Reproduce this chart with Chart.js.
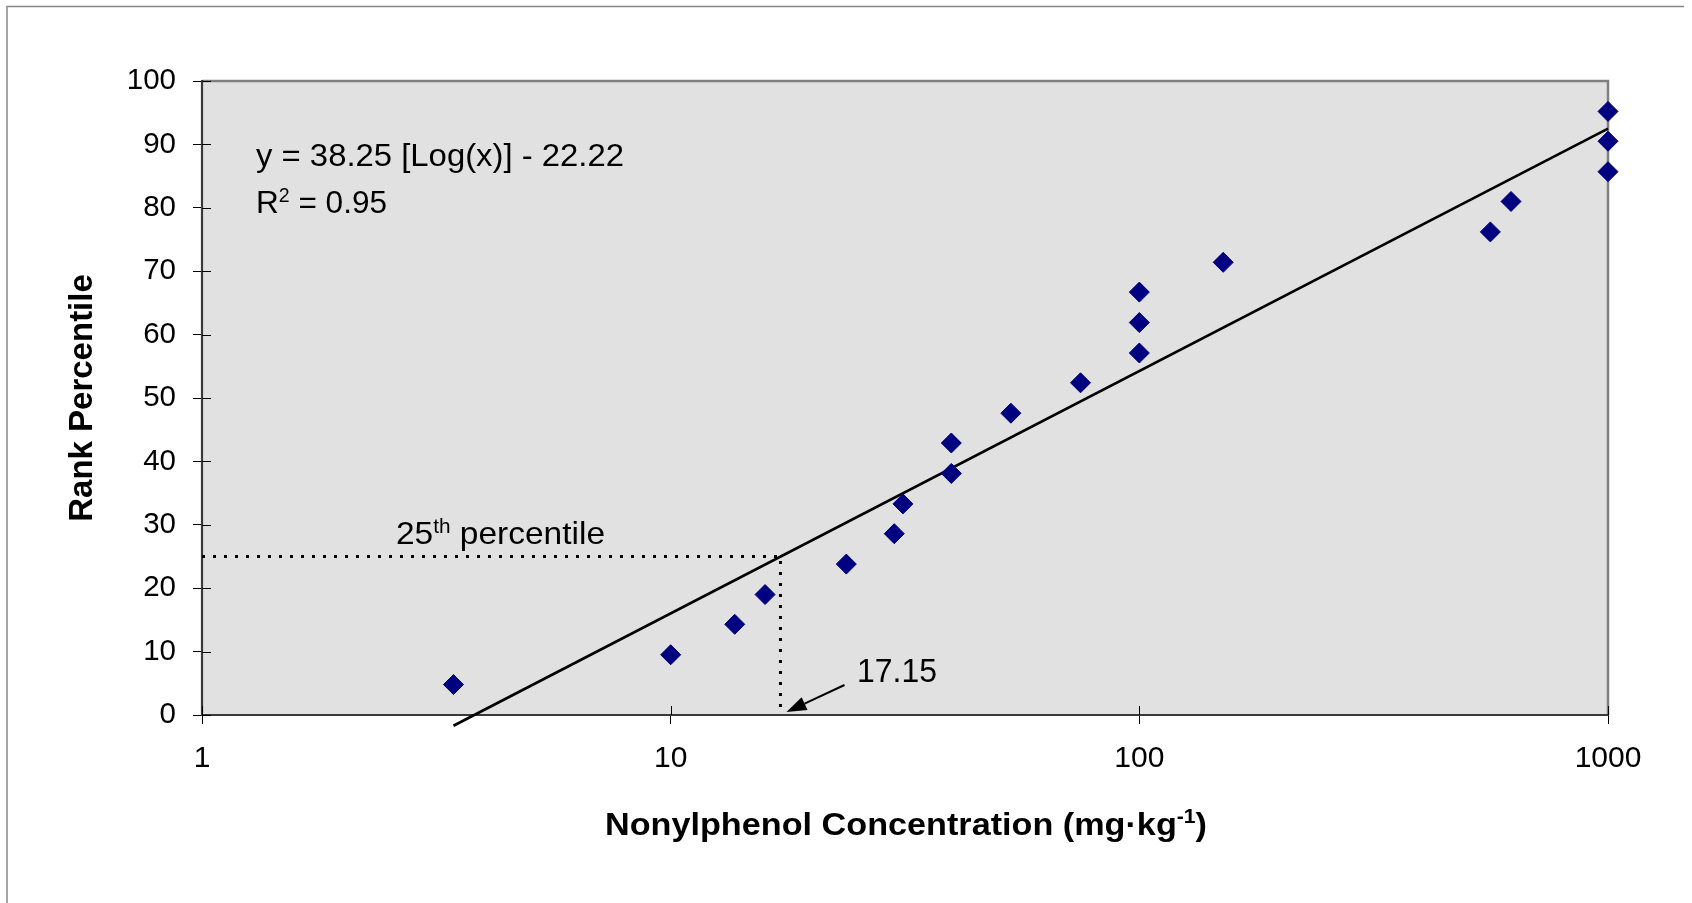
<!DOCTYPE html>
<html><head><meta charset="utf-8">
<script src="https://cdn.jsdelivr.net/npm/chart.js@4.4.1/dist/chart.umd.min.js"></script>
<style>html,body{margin:0;padding:0;background:#fff;overflow:hidden}canvas{display:block}</style>
</head><body>
<canvas id="c" width="1692" height="903"></canvas>
<script>
// ---- data ----
const concentration = [3.44, 10, 13.7, 15.9, 23.7, 30.0, 31.3, 39.7, 39.7, 53.2, 74.9, 100, 100, 100, 151, 561, 621, 1000, 1000, 1000];
const rankPercentile = [4.8, 9.5, 14.3, 19.0, 23.8, 28.6, 33.3, 38.1, 42.9, 47.6, 52.4, 57.1, 61.9, 66.7, 71.4, 76.2, 81.0, 85.7, 90.5, 95.2];
const trendX = [3.44, 1000];
const trendY = [-1.7, 92.5];
const refX = [1, 17.15, 17.15];
const refY = [25, 25, 0];
const xTicks = [1, 10, 100, 1000];
const yTicks = [0, 10, 20, 30, 40, 50, 60, 70, 80, 90, 100];
const equationLabel = 'y = 38.25 [Log(x)] - 22.22';
const r2Value = '0.95';
const refLabel = '17.15';
const xTitle = 'Nonylphenol Concentration (mg\u00B7kg';
const yTitle = 'Rank Percentile';

const FONT = "'Liberation Sans', Arial, Helvetica, sans-serif";

function drawRich(ctx, parts, x, baseline, size, weight, targetWidth, align) {
  const fnt = s => (weight ? weight + ' ' : '') + s + 'px ' + FONT;
  let natural = 0;
  parts.forEach(p => { ctx.font = fnt(p.sup ? size * 0.62 : size); natural += ctx.measureText(p.t).width; });
  const sx = targetWidth ? targetWidth / natural : 1;
  const total = natural * sx;
  let startX = align === 'center' ? x - total / 2 : x;
  ctx.save();
  ctx.translate(startX, baseline);
  ctx.scale(sx, 1);
  ctx.fillStyle = '#000';
  ctx.textBaseline = 'alphabetic';
  ctx.textAlign = 'left';
  let cx = 0;
  parts.forEach(p => {
    const s = p.sup ? size * 0.62 : size;
    ctx.font = fnt(s);
    ctx.fillText(p.t, cx, p.sup ? -size * 0.36 : 0);
    cx += ctx.measureText(p.t).width;
  });
  ctx.restore();
}

const deco = {
  id: 'deco',
  beforeDraw(chart) {
    const {ctx, chartArea: a} = chart;
    ctx.save();
    ctx.fillStyle = '#FFFFFF';
    ctx.fillRect(0, 0, chart.width, chart.height);
    ctx.fillStyle = '#E1E1E1';
    ctx.fillRect(a.left, a.top, a.right - a.left, a.bottom - a.top);
    // outer frame (top and left)
    ctx.strokeStyle = '#888888';
    ctx.lineWidth = 1.5;
    ctx.beginPath();
    ctx.moveTo(7, 903); ctx.lineTo(7, 6.5); ctx.lineTo(1684, 6.5);
    ctx.stroke();
    ctx.restore();
  },
  beforeDatasetsDraw(chart) {
    const {ctx, chartArea: a, scales} = chart;
    ctx.save();
    ctx.lineWidth = 2.5;
    ctx.strokeStyle = '#808080';
    ctx.beginPath();
    ctx.moveTo(a.left, a.top); ctx.lineTo(a.right, a.top); ctx.lineTo(a.right, a.bottom);
    ctx.stroke();
    ctx.strokeStyle = '#3a3a3a';
    ctx.lineWidth = 2.2;
    ctx.beginPath();
    ctx.moveTo(a.left, a.top - 1); ctx.lineTo(a.left, a.bottom); ctx.lineTo(a.right + 1, a.bottom);
    ctx.stroke();
    // inner halves of the crossing ticks
    ctx.strokeStyle = '#000';
    ctx.lineWidth = 1;
    ctx.beginPath();
    yTicks.forEach(v => { const py = Math.round(scales.y.getPixelForValue(v)) + 0.5; ctx.moveTo(a.left, py); ctx.lineTo(a.left + 9, py); });
    xTicks.forEach(v => { const px = Math.round(scales.x.getPixelForValue(v)) + 0.5; ctx.moveTo(px, a.bottom); ctx.lineTo(px, a.bottom - 9); });
    ctx.stroke();
    ctx.restore();
  },
  afterDatasetsDraw(chart) {
    const {ctx, scales} = chart;
    // equation and R^2
    drawRich(ctx, [{t: equationLabel}], 256, 166, 31.5, '', 368);
    drawRich(ctx, [{t: 'R'}, {t: '2', sup: true}, {t: ' = ' + r2Value}], 256, 213, 31.5, '', 131);
    // 25th percentile
    drawRich(ctx, [{t: '25'}, {t: 'th', sup: true}, {t: ' percentile'}], 396, 544, 31.5, '', 209);
    // 17.15 label
    drawRich(ctx, [{t: refLabel}], 857, 682, 32.5, '', 80);
    // arrow to the 17.15 point on the axis
    const tx = scales.x.getPixelForValue(refX[1]) + 6;
    const ty = scales.y.getPixelForValue(0) - 3;
    const sx = tx + 58, sy = ty - 27;
    const ang = Math.atan2(ty - sy, tx - sx);
    const L = 20, W = 7;
    const bx = tx - L * Math.cos(ang), by = ty - L * Math.sin(ang);
    ctx.save();
    ctx.strokeStyle = '#000'; ctx.fillStyle = '#000'; ctx.lineWidth = 2;
    ctx.beginPath(); ctx.moveTo(sx, sy); ctx.lineTo(bx, by); ctx.stroke();
    ctx.beginPath();
    ctx.moveTo(tx, ty);
    ctx.lineTo(bx + W * Math.sin(ang), by - W * Math.cos(ang));
    ctx.lineTo(bx - W * Math.sin(ang), by + W * Math.cos(ang));
    ctx.closePath(); ctx.fill();
    ctx.restore();
    // x axis title
    drawRich(ctx, [{t: xTitle}, {t: '-1', sup: true}, {t: ')'}], 906, 835, 32, 'bold', 602, 'center');
  }
};

new Chart(document.getElementById('c').getContext('2d'), {
  type: 'scatter',
  data: {
    datasets: [
      {
        label: 'Samples',
        data: concentration.map((x, i) => ({x: x, y: rankPercentile[i]})),
        pointStyle: 'rectRot', pointRadius: 10, pointHoverRadius: 10,
        backgroundColor: '#000080', borderColor: '#000080', borderWidth: 1,
        clip: false, order: 0
      },
      {
        label: 'Trend',
        data: trendX.map((x, i) => ({x: x, y: trendY[i]})),
        showLine: true, borderColor: '#000', borderWidth: 2.6, pointRadius: 0,
        clip: false, order: 1
      },
      {
        label: '25th percentile',
        data: refX.map((x, i) => ({x: x, y: refY[i]})),
        showLine: true, borderColor: '#000', borderWidth: 3, borderDash: [3, 8],
        borderCapStyle: 'butt', pointRadius: 0, order: 2
      }
    ]
  },
  options: {
    responsive: false, animation: false, devicePixelRatio: 1,
    layout: {padding: {left: 0, top: 81, right: 84, bottom: 0}},
    plugins: {legend: {display: false}, tooltip: {enabled: false}},
    scales: {
      x: {
        type: 'logarithmic', min: 1, max: 1000, position: 'bottom',
        afterBuildTicks: s => { s.ticks = xTicks.map(v => ({value: v})); },
        afterFit: s => { s.height = 188; },
        ticks: {color: '#000', font: {family: FONT, size: 30}, padding: 17, maxRotation: 0, autoSkip: false,
                callback: v => String(v)},
        grid: {drawOnChartArea: false, drawTicks: true, tickLength: 9, color: '#000', lineWidth: 1},
        border: {display: false}
      },
      y: {
        min: 0, max: 100,
        afterBuildTicks: s => { s.ticks = yTicks.map(v => ({value: v})); },
        afterFit: s => { s.width = 202; },
        ticks: {color: '#000', font: {family: FONT, size: 29.5}, padding: 17, autoSkip: false},
        grid: {drawOnChartArea: false, drawTicks: true, tickLength: 9, color: '#000', lineWidth: 1},
        border: {display: false},
        title: {display: true, text: yTitle, color: '#000', font: {family: FONT, size: 33, weight: 'bold'}, padding: {top: 63, bottom: 0}}
      }
    }
  },
  plugins: [deco]
});
</script>
</body></html>
